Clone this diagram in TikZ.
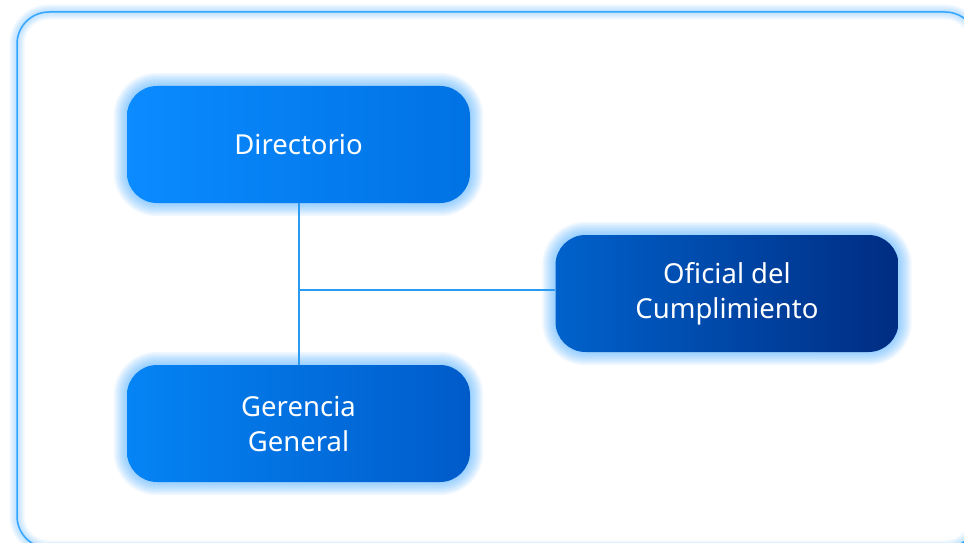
\documentclass[tikz,border=0pt]{standalone}
\usepackage{fontspec}
\setmainfont{Noto Sans}
\usetikzlibrary{backgrounds}
\definecolor{glowc}{HTML}{3AA8FF}
\definecolor{framec}{HTML}{33A6FF}
\definecolor{linec}{HTML}{2A9BF5}
\definecolor{dirA}{HTML}{0A8BFF}
\definecolor{dirB}{HTML}{0072E4}
\definecolor{gerA}{HTML}{0584F5}
\definecolor{gerB}{HTML}{005BC9}
\definecolor{ofiA}{HTML}{0062CC}
\definecolor{ofiB}{HTML}{002C82}
% soft blue halo round a box
\newcommand{\halo}[2]{%
  \foreach \w in {2,5,...,26} \draw[glowc, line width=\w pt, opacity=0.07, rounded corners=#2] (#1.south west) rectangle (#1.north east);}

\begin{document}
\begin{tikzpicture}[x=1pt,y=-1pt]
		\tikzstyle{unit} = [rounded corners=30pt, minimum width=343pt, minimum height=117pt, text=white, align=center, font=\fontsize{27.5}{35}\selectfont]
		\tikzstyle{link} = [linec, line width=1.6pt]
		\useasboundingbox (0,0) rectangle (964,543);
		\clip (0,0) rectangle (964,543);
		\node[unit, left color=dirA, right color=dirB] (dir) at (298.5,144.5) {Directorio};
		\node[unit, left color=gerA, right color=gerB] (ger) at (298.5,423.5) {Gerencia\\General};
		\node[unit, left color=ofiA, right color=ofiB] (ofi) at (727,293.5) {Oficial del\\Cumplimiento};
		\coordinate (frmA) at (17,12); \coordinate (frmB) at (977,548);
		\coordinate (junc) at (299,290);
		\begin{pgfonlayer}{background}
		\fill[white] (0,0) rectangle (964,543);
		\foreach \w in {3,6,...,15} \draw[glowc, line width=\w pt, opacity=0.07, rounded corners=32pt] (frmA) rectangle (frmB);
		\halo{dir}{30pt} \halo{ger}{30pt} \halo{ofi}{30pt}
		\draw[link] (dir.south -| junc) -- (ger.north -| junc);
		\draw[link] (junc) -- (junc -| ofi.west);
		\end{pgfonlayer}
		\draw[framec, line width=1.5pt, rounded corners=32pt] (frmA) rectangle (frmB);
\end{tikzpicture}
\end{document}
